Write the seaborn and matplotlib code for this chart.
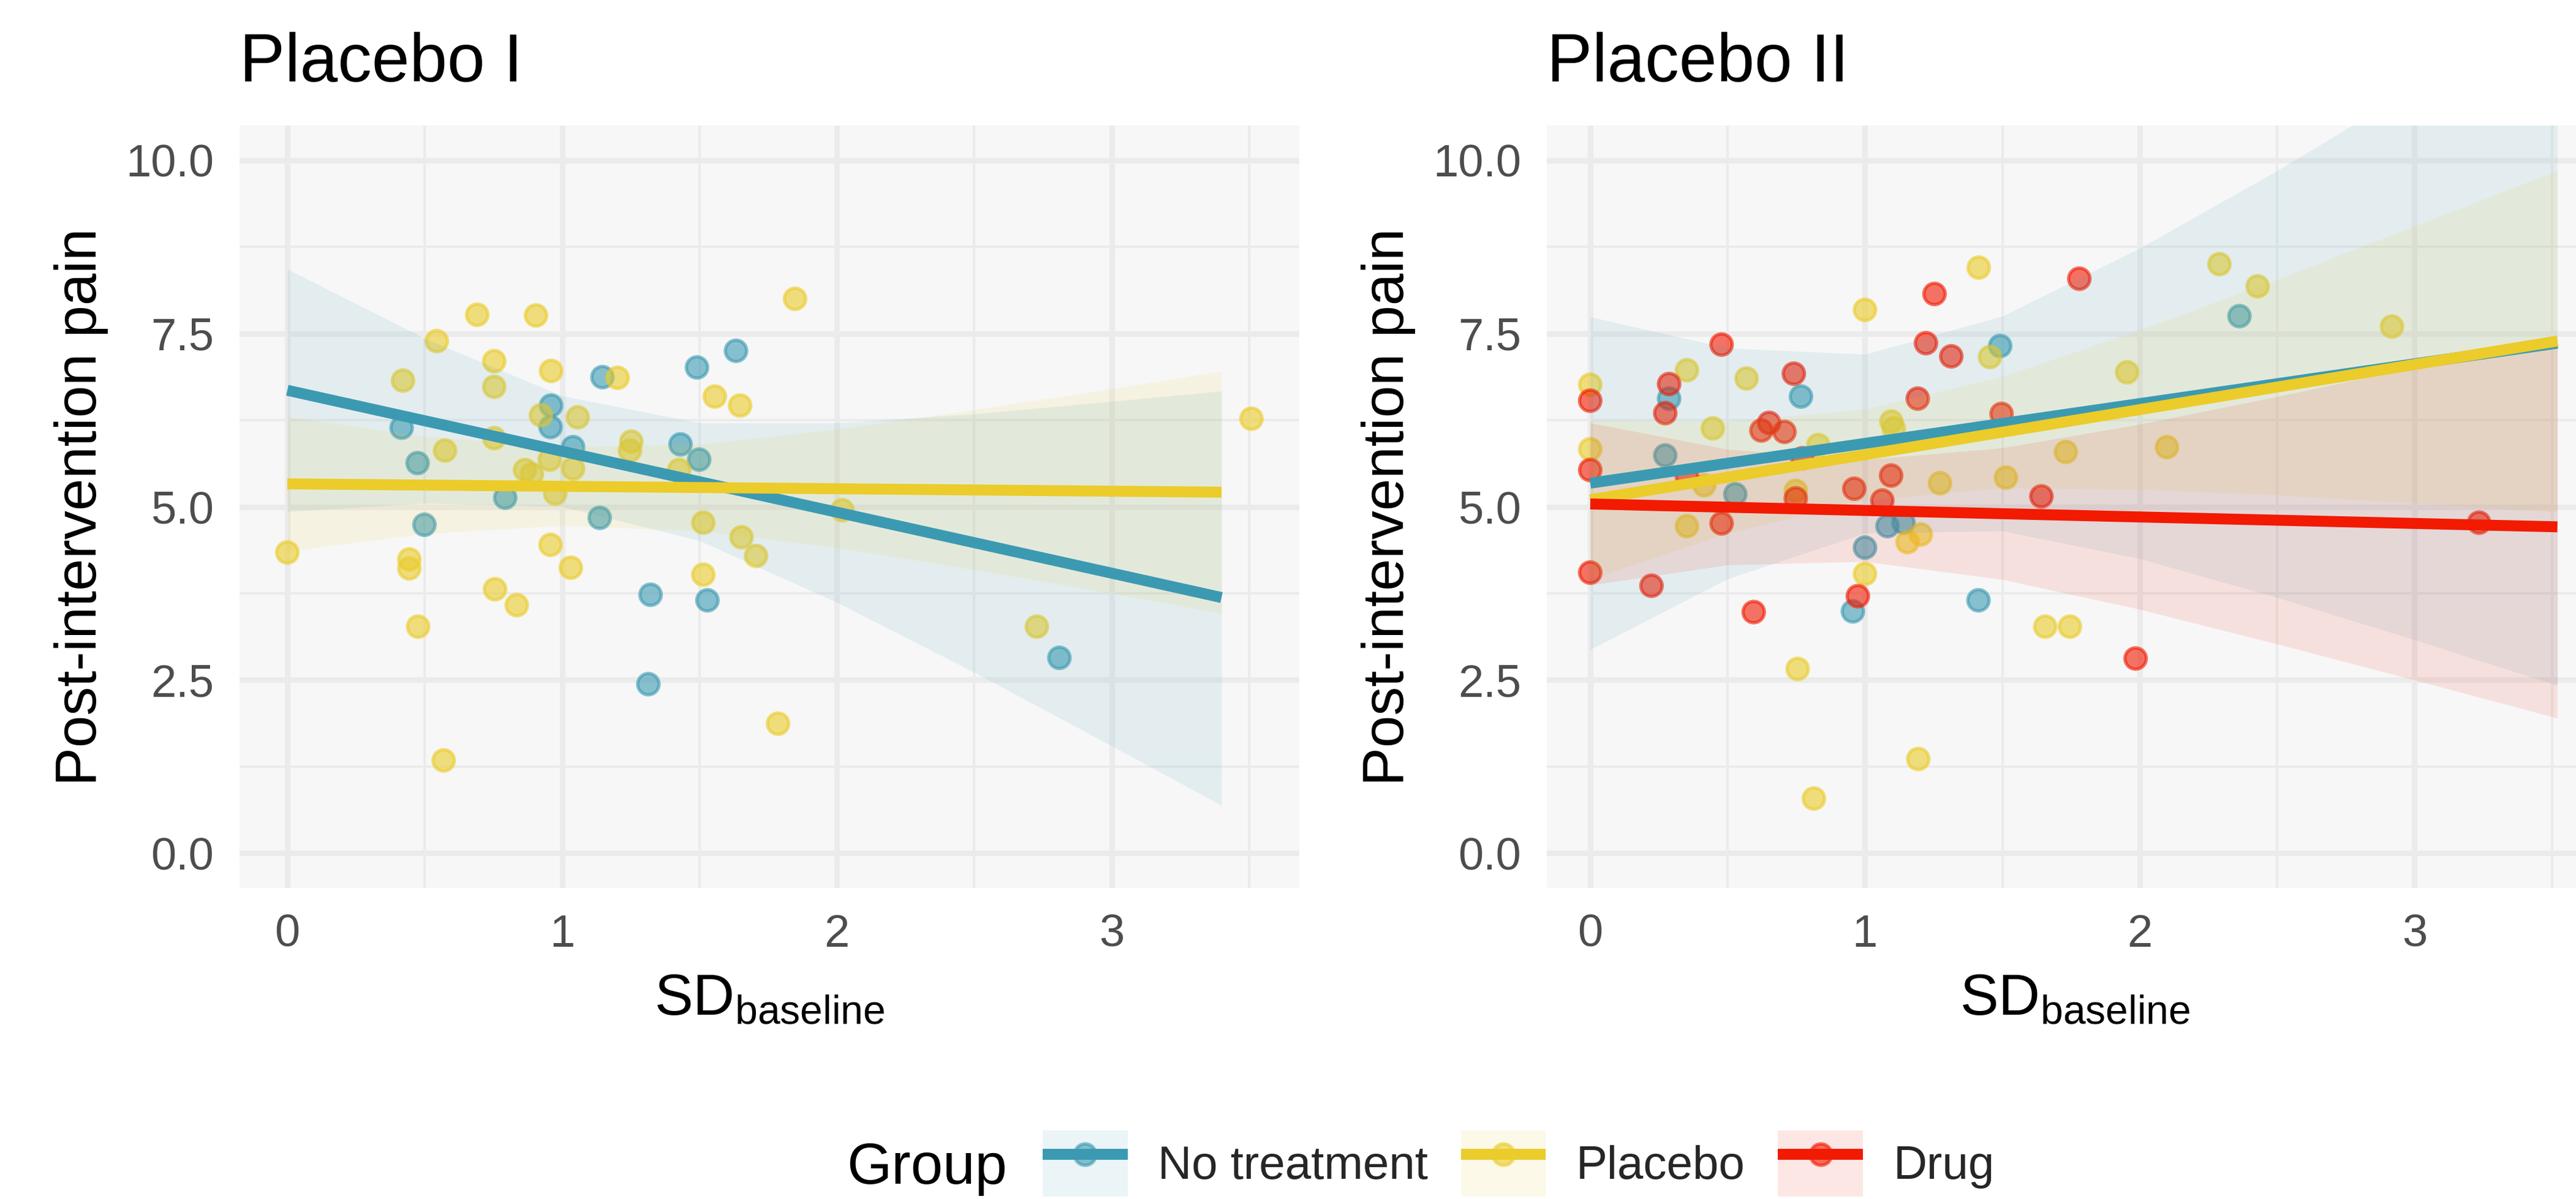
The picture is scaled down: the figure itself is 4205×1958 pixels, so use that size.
import numpy as np
import pandas as pd
import matplotlib
matplotlib.use("Agg")
import matplotlib.pyplot as plt
import seaborn as sns
from matplotlib.patches import Patch
from matplotlib.lines import Line2D
from matplotlib.legend_handler import HandlerTuple

# ---------------- data ----------------
groups = ["No treatment", "Placebo", "Drug"]
colors = {"No treatment": "#3B9AB2", "Placebo": "#EBCC2A", "Drug": "#F21A00"}
panel_titles = ["Placebo I", "Placebo II"]
x_label = r"SD$_{\mathregular{baseline}}$"
y_label = "Post-intervention pain"
x_ticks = [0, 1, 2, 3]
x_tick_labels = ["0", "1", "2", "3"]
x_minor = [0.5, 1.5, 2.5, 3.5]
y_ticks = [0.0, 2.5, 5.0, 7.5, 10.0]
y_tick_labels = ["0.0", "2.5", "5.0", "7.5", "10.0"]
y_minor = [1.25, 3.75, 6.25, 8.75]

# Panel 1 (Placebo I) points
p1_none_x = [1.633, 1.491, 1.147, 0.960, 0.958, 0.416, 1.040, 1.431, 1.499, 0.474,
             0.793, 1.137, 0.499, 1.322, 1.529, 2.810, 1.314]
p1_none_y = [7.25, 7.01, 6.87, 6.46, 6.15, 6.14, 5.86, 5.90, 5.68, 5.63,
             5.13, 4.84, 4.74, 3.73, 3.65, 2.82, 2.44]
p1_plac_x = [1.848, 0.691, 0.905, 0.544, 0.753, 0.960, 0.421, 1.202, 0.753, 1.556,
             1.648, 0.923, 1.057, 3.509, 0.753, 0.574, 1.252, 1.247, 0.955, 0.865,
             1.040, 0.890, 1.426, 0.975, 2.020, 1.514, 0.000, 0.958, 1.653, 1.706,
             0.444, 0.444, 1.032, 1.514, 0.756, 0.835, 0.476, 2.728, 1.786, 0.569]
p1_plac_y = [8.00, 7.77, 7.76, 7.39, 7.10, 6.96, 6.82, 6.86, 6.73, 6.59,
             6.46, 6.32, 6.29, 6.27, 5.99, 5.81, 5.94, 5.81, 5.68, 5.53,
             5.55, 5.47, 5.53, 5.19, 4.95, 4.77, 4.34, 4.45, 4.56, 4.29,
             4.24, 4.11, 4.12, 4.02, 3.81, 3.58, 3.27, 3.27, 1.87, 1.34]

# Panel 2 (Placebo II) points
p2_none_x = [1.492, 0.767, 0.287, 0.273, 0.528, 1.082, 1.140, 1.000, 1.413, 0.956, 2.363]
p2_none_y = [7.32, 6.59, 6.56, 5.74, 5.18, 4.72, 4.77, 4.41, 3.65, 3.49, 7.75]
p2_plac_x = [1.414, 2.290, 2.429, 1.000, 2.918, 1.455, 1.954, 0.000, 0.352, 0.569,
             1.096, 1.105, 0.446, 0.000, 0.830, 1.731, 2.099, 1.513, 1.273, 0.415,
             0.748, 0.352, 1.203, 1.155, 1.000, 1.656, 1.746, 0.755, 1.194, 0.814]
p2_plac_y = [8.45, 8.50, 8.18, 7.84, 7.60, 7.16, 6.94, 6.76, 6.97, 6.85,
             6.23, 6.13, 6.13, 5.83, 5.89, 5.79, 5.86, 5.42, 5.34, 5.31,
             5.23, 4.72, 4.60, 4.49, 4.03, 3.27, 3.27, 2.66, 1.36, 0.79]
p2_drug_x = [1.253, 1.780, 0.478, 1.222, 1.314, 0.741, 0.287, 0.000, 1.192, 0.273,
             1.497, 0.651, 0.623, 0.707, 0.000, 0.772, 0.352, 1.095, 0.961, 1.063,
             0.748, 1.642, 0.478, 3.235, 0.000, 0.223, 0.974, 0.595, 1.985]
p2_drug_y = [8.07, 8.29, 7.34, 7.36, 7.17, 6.92, 6.77, 6.53, 6.56, 6.35,
             6.34, 6.21, 6.10, 6.08, 5.53, 5.70, 5.44, 5.45, 5.26, 5.09,
             5.12, 5.15, 4.76, 4.77, 4.05, 3.86, 3.71, 3.48, 2.81]

# Fitted lines (end points)
p1_fit_x = [0.0, 3.40]
p1_none_fit = [6.68, 3.69]
p1_plac_fit = [5.33, 5.21]
p2_fit_x = [0.0, 3.52]
p2_none_fit = [5.34, 7.36]
p2_plac_fit = [5.10, 7.39]
p2_drug_fit = [5.04, 4.71]

# Confidence ribbons (lower / upper edges read at these x)
p1_band_x = [0.0, 0.5, 1.0, 1.5, 2.0, 2.5, 3.0, 3.40]
p1_none_lo = [4.93, 5.05, 5.00, 4.51, 3.62, 2.61, 1.55, 0.69]
p1_none_hi = [8.43, 7.43, 6.60, 6.21, 6.21, 6.34, 6.52, 6.67]
p1_plac_lo = [4.36, 4.61, 4.73, 4.65, 4.41, 4.09, 3.75, 3.46]
p1_plac_hi = [6.30, 6.02, 5.86, 5.90, 6.12, 6.40, 6.70, 6.96]
p2_band_x = [0.0, 0.5, 1.0, 1.5, 2.0, 2.5, 3.0, 3.52]
p2_none_lo = [2.94, 3.96, 4.62, 4.65, 4.25, 3.69, 3.08, 2.42]
p2_none_hi = [7.74, 7.29, 7.20, 7.75, 8.73, 9.85, 11.04, 12.29]
p2_plac_lo = [3.95, 4.62, 5.09, 5.27, 5.25, 5.17, 5.05, 4.92]
p2_plac_hi = [6.25, 6.23, 6.41, 6.88, 7.55, 8.28, 9.05, 9.85]
p2_drug_lo = [3.87, 4.16, 4.21, 3.95, 3.52, 3.02, 2.50, 1.95]
p2_drug_hi = [6.21, 5.83, 5.68, 5.85, 6.19, 6.59, 7.01, 7.47]

# ---------------- build tables ----------------
def points_df(parts):
    frames = [pd.DataFrame({"x": xs, "y": ys, "Group": g}) for g, xs, ys in parts]
    return pd.concat(frames, ignore_index=True)

def fit_df(xs, parts):
    frames = [pd.DataFrame({"x": xs, "y": ys, "Group": g}) for g, ys in parts]
    return pd.concat(frames, ignore_index=True)

panels = [
    dict(points=points_df([("No treatment", p1_none_x, p1_none_y),
                           ("Placebo", p1_plac_x, p1_plac_y)]),
         fit=fit_df(p1_fit_x, [("No treatment", p1_none_fit), ("Placebo", p1_plac_fit)]),
         bands=[("No treatment", p1_band_x, p1_none_lo, p1_none_hi),
                ("Placebo", p1_band_x, p1_plac_lo, p1_plac_hi)],
         groups=["No treatment", "Placebo"]),
    dict(points=points_df([("No treatment", p2_none_x, p2_none_y),
                           ("Placebo", p2_plac_x, p2_plac_y),
                           ("Drug", p2_drug_x, p2_drug_y)]),
         fit=fit_df(p2_fit_x, [("No treatment", p2_none_fit), ("Placebo", p2_plac_fit),
                               ("Drug", p2_drug_fit)]),
         bands=[("No treatment", p2_band_x, p2_none_lo, p2_none_hi),
                ("Placebo", p2_band_x, p2_plac_lo, p2_plac_hi),
                ("Drug", p2_band_x, p2_drug_lo, p2_drug_hi)],
         groups=groups),
]

# ---------------- style ----------------
sns.set_theme(style="white")
plt.rcParams["font.family"] = ["Liberation Sans", "DejaVu Sans"]
plt.rcParams["mathtext.fontset"] = "custom"
plt.rcParams["mathtext.rm"] = "Liberation Sans"

W, H, DPI = 4205, 1958, 300
fig = plt.figure(figsize=(W / DPI, H / DPI), dpi=DPI)
fig.patch.set_facecolor("white")

ax_px = [(391, 1730), (2525, 1725)]
bottom_px, height_px = 508, 1245
px_per_unit = 448.5
x_starts = [-0.174, -0.158]

TICK_FS, AXT_FS, TITLE_FS = 17.8, 22.6, 26.6
LINE_W = 4.3

for i, (pan, (lpx, wpx)) in enumerate(zip(panels, ax_px)):
    ax = fig.add_axes([lpx / W, bottom_px / H, wpx / W, height_px / H])
    ax.set_facecolor("#F7F7F7")
    for s in ax.spines.values():
        s.set_visible(False)
    x0 = x_starts[i]
    ax.set_xlim(x0, x0 + wpx / px_per_unit)
    ax.set_ylim(-0.5, 10.5)

    pal = {g: colors[g] for g in pan["groups"]}
    sns.scatterplot(data=pan["points"], x="x", y="y", hue="Group",
                    hue_order=pan["groups"], palette=pal, s=70, alpha=0.6,
                    edgecolor="face", linewidth=1.3, legend=False, ax=ax, zorder=2)
    for g, bx, lo, hi in pan["bands"]:
        ax.fill_between(bx, lo, hi, color=colors[g], alpha=0.1, lw=0, zorder=3)
    sns.lineplot(data=pan["fit"], x="x", y="y", hue="Group", hue_order=pan["groups"],
                 palette=pal, lw=LINE_W, legend=False, ax=ax, zorder=4,
                 solid_capstyle="butt", errorbar=None)

    ax.set_xlim(x0, x0 + wpx / px_per_unit)
    ax.set_ylim(-0.5, 10.5)
    ax.set_xticks(x_ticks)
    ax.set_xticklabels(x_tick_labels)
    ax.set_xticks(x_minor, minor=True)
    ax.set_yticks(y_ticks)
    ax.set_yticklabels(y_tick_labels)
    ax.set_yticks(y_minor, minor=True)
    ax.grid(which="major", color="#EBEBEB", lw=2.2)
    ax.grid(which="minor", color="#EBEBEB", lw=1.0)
    ax.set_axisbelow(True)
    ax.tick_params(which="both", length=0)
    ax.tick_params(axis="x", pad=10, labelsize=TICK_FS, labelcolor="#4D4D4D")
    ax.tick_params(axis="y", pad=10, labelsize=TICK_FS, labelcolor="#4D4D4D")

    ax.set_title(panel_titles[i], loc="left", fontsize=TITLE_FS, pad=17.3, color="black")
    ax.set_xlabel(x_label, fontsize=AXT_FS, color="black")
    ax.xaxis.set_label_coords(0.5, (0 - 138) / height_px)
    ax.set_ylabel(y_label, fontsize=AXT_FS, color="black")
    ax.yaxis.set_label_coords(-214 / wpx, 0.5)

# ---------------- legend ----------------
handles = []
for g in groups:
    c = colors[g]
    handles.append((Patch(facecolor=c, alpha=0.1, edgecolor="none"),
                    Line2D([], [], ls="none", marker="o", ms=8.4, mfc=c, mec=c, mew=1.3, alpha=0.6),
                    Line2D([], [], color=c, lw=LINE_W, solid_capstyle="butt")))
fig.legend(handles, groups, handler_map={tuple: HandlerTuple(ndivide=1, pad=0)},
           loc="center left", bbox_to_anchor=(1702 / W, 58 / H), ncol=3, frameon=False,
           fontsize=18.3, handlelength=1.82, handleheight=1.82, handletextpad=0.65,
           columnspacing=0.7, borderpad=0, borderaxespad=0)
fig.text(1382 / W, (H - 1933) / H, "Group", fontsize=22.6, va="baseline", ha="left", color="black")

fig.savefig("out.png", dpi=DPI)
